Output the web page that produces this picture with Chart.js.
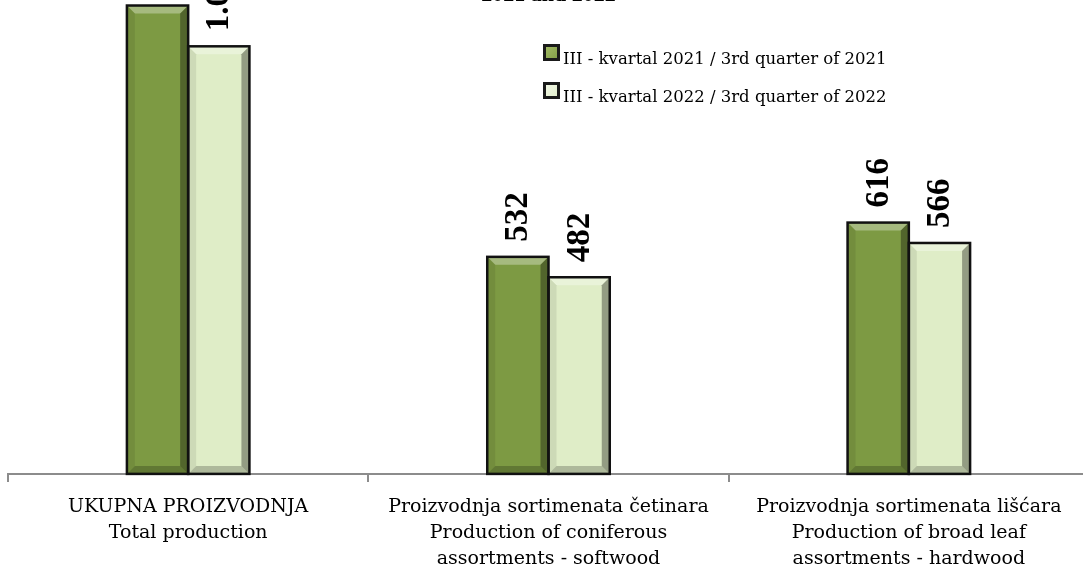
<!DOCTYPE html>
<html lang="en">
<head>
  <meta charset="UTF-8">
  <title>Proizvodnja sortimenata</title>
  <script src="https://cdn.jsdelivr.net/npm/chart.js"></script>
  <style>
    html, body { margin: 0; padding: 0; background: #fff; overflow: hidden; }
    .chart-box { position: absolute; left: 0; top: -14px; width: 1095px; height: 598px; }
  </style>
</head>
<body>
  <div class="chart-box">
    <canvas id="prodChart"></canvas>
  </div>

  <script>
    const categories = [
      ['UKUPNA PROIZVODNJA', 'Total production'],
      ['Proizvodnja sortimenata četinara', 'Production of coniferous', 'assortments - softwood'],
      ['Proizvodnja sortimenata lišćara', 'Production of broad leaf', 'assortments - hardwood']
    ];
    const seriesNames = ['III - kvartal 2021 / 3rd quarter of 2021', 'III - kvartal 2022 / 3rd quarter of 2022'];
    const q2021 = [1148, 532, 616];
    const q2022 = [1048, 482, 566];

    const fmt = v => String(v).replace(/\B(?=(\d{3})+(?!\d))/g, '.');

    // bevel look on each bar + outline
    const bevelBars = {
      id: 'bevelBars',
      afterDatasetsDraw(chart) {
        const ctx = chart.ctx;
        chart.data.datasets.forEach((ds, i) => {
          chart.getDatasetMeta(i).data.forEach(bar => {
            const L = bar.x - bar.width / 2, R = bar.x + bar.width / 2;
            const T = bar.y, B = bar.base, b = 8;
            const poly = (pts, fill) => {
              ctx.beginPath();
              ctx.moveTo(pts[0][0], pts[0][1]);
              pts.slice(1).forEach(p => ctx.lineTo(p[0], p[1]));
              ctx.closePath();
              ctx.fillStyle = fill;
              ctx.fill();
            };
            ctx.save();
            poly([[L, T], [R, T], [R - b, T + b], [L + b, T + b]], 'rgba(255,255,255,0.32)');
            poly([[R, T], [R, B], [R - b, B - b], [R - b, T + b]], 'rgba(0,0,0,0.34)');
            poly([[L, B], [R, B], [R - b, B - b], [L + b, B - b]], 'rgba(0,0,0,0.22)');
            poly([[L, T], [L, B], [L + b, B - b], [L + b, T + b]], 'rgba(0,0,0,0.08)');
            ctx.strokeStyle = '#111';
            ctx.lineWidth = 2.5;
            ctx.strokeRect(L, T, R - L, B - T);
            ctx.restore();
          });
        });
      }
    };

    // rotated value labels above the bars
    const valueLabels = {
      id: 'valueLabels',
      afterDatasetsDraw(chart) {
        const ctx = chart.ctx;
        ctx.save();
        ctx.font = 'bold 33px "Liberation Serif"';
        ctx.fillStyle = '#000';
        ctx.textAlign = 'left';
        ctx.textBaseline = 'middle';
        chart.data.datasets.forEach((ds, i) => {
          chart.getDatasetMeta(i).data.forEach((bar, j) => {
            ctx.save();
            ctx.translate(bar.x + 1, bar.y - 15);
            ctx.rotate(-Math.PI / 2);
            ctx.fillText(fmt(ds.data[j]), 0, 0);
            ctx.restore();
          });
        });
        ctx.restore();
      }
    };

    // two-row legend in the upper middle
    const boxLegend = {
      id: 'boxLegend',
      afterDraw(chart) {
        const ctx = chart.ctx;
        const x0 = 543, y0 = 58, rowGap = 38, s = 17;
        ctx.save();
        chart.data.datasets.forEach((ds, i) => {
          const y = y0 + i * rowGap;
          ctx.fillStyle = '#1a1a1a';
          ctx.fillRect(x0, y, s, s);
          const g = ctx.createLinearGradient(x0, y, x0 + s, y + s);
          g.addColorStop(0, ds.legendLight);
          g.addColorStop(1, ds.backgroundColor);
          ctx.fillStyle = g;
          ctx.fillRect(x0 + 3, y + 3, s - 6, s - 6);
          ctx.font = '16.5px "DejaVu Serif"';
          ctx.fillStyle = '#000';
          ctx.textBaseline = 'alphabetic';
          ctx.fillText(ds.label, x0 + 20, y + 20);
        });
        ctx.restore();
      }
    };

    new Chart(document.getElementById('prodChart'), {
      type: 'bar',
      data: {
        labels: categories,
        datasets: [
          { label: seriesNames[0], data: q2021, backgroundColor: '#7d9a43', legendLight: '#a9c06a', borderWidth: 0 },
          { label: seriesNames[1], data: q2022, backgroundColor: '#dfedc7', legendLight: '#f4f8ea', borderWidth: 0 }
        ]
      },
      options: {
        responsive: true,
        maintainAspectRatio: false,
        animation: false,
        layout: { padding: { left: 8, right: 6, top: 0, bottom: 0 } },
        datasets: { bar: { categoryPercentage: 0.34, barPercentage: 1.0 } },
        plugins: {
          legend: { display: false },
          tooltip: { enabled: false },
          title: {
            display: true,
            text: '2021 and 2022',
            color: '#000',
            font: { family: 'Liberation Serif', size: 22, weight: 'bold', lineHeight: 0.85 },
            padding: { top: 0, bottom: 0 }
          }
        },
        scales: {
          x: {
            grid: { display: true, drawOnChartArea: false, offset: true, color: '#8c8c8c', lineWidth: 2, tickLength: 8 },
            border: { display: true, color: '#8c8c8c', width: 2 },
            ticks: {
              color: '#000',
              padding: 12,
              maxRotation: 0,
              autoSkip: false,
              font: { family: 'DejaVu Serif', size: 19, lineHeight: 1.37 }
            }
          },
          y: {
            display: false,
            min: 0,
            max: 1150
          }
        }
      },
      plugins: [bevelBars, valueLabels, boxLegend]
    });
  </script>
</body>
</html>
